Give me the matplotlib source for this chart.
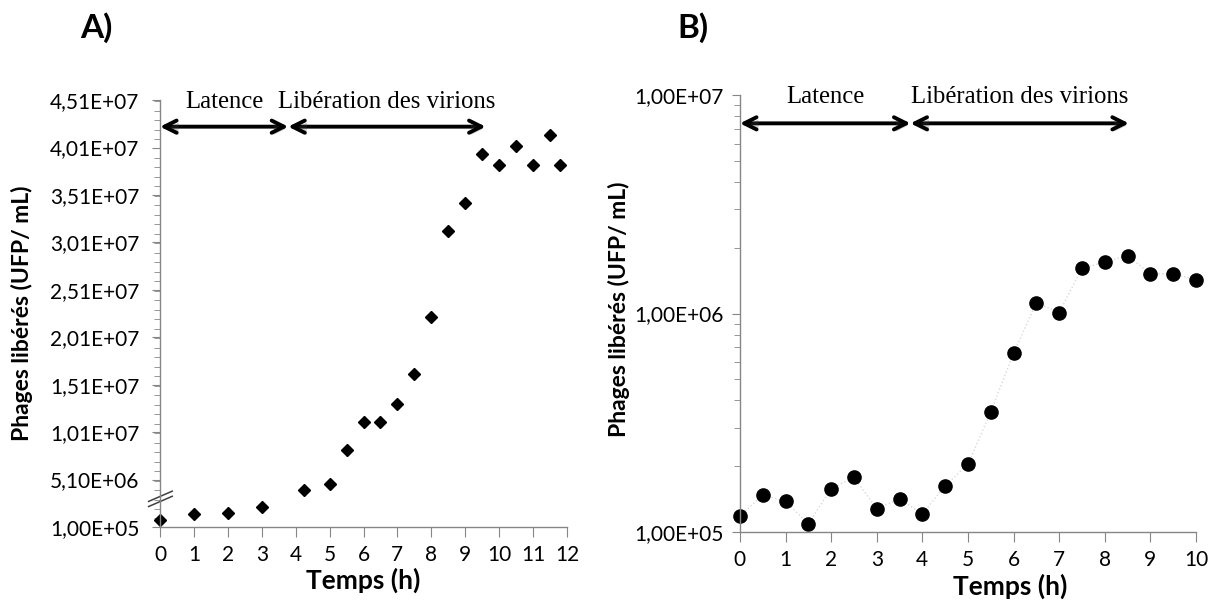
# Courbes de libération des phages (A: échelle linéaire, B: échelle log)
#=======================================================================
import numpy as np
import matplotlib.pyplot as plt
import matplotlib.patheffects as pe
from matplotlib.ticker import FuncFormatter, MultipleLocator, LogLocator, NullFormatter

plt.rcParams['font.family'] = ['Lato', 'DejaVu Sans']

# Données
#---------------------------
tA = [0, 1, 2, 3, 4.25, 5, 5.5, 6, 6.5, 7, 7.5, 8, 8.5, 9, 9.5, 10, 10.5, 11, 11.5, 11.8]
phagesA = [0.8e6, 1.5e6, 1.6e6, 2.2e6, 4.0e6, 4.6e6, 8.2e6, 11.2e6, 11.2e6, 13.1e6,
           16.2e6, 22.2e6, 31.3e6, 34.3e6, 39.4e6, 38.3e6, 40.3e6, 38.3e6, 41.4e6, 38.3e6]

tB = [0, 0.5, 1, 1.5, 2, 2.5, 3, 3.5, 4, 4.5, 5, 5.5, 6, 6.5, 7, 7.5, 8, 8.5, 9, 9.5, 10]
phagesB = [1.18e5, 1.48e5, 1.38e5, 1.09e5, 1.58e5, 1.78e5, 1.28e5, 1.42e5, 1.21e5, 1.63e5,
           2.04e5, 3.55e5, 6.58e5, 1.12e6, 1.01e6, 1.61e6, 1.72e6, 1.84e6, 1.52e6, 1.52e6, 1.43e6]

# Phases (début, fin) en heures
phasesA = [("Latence", 0, 3.78), ("Libération des virions", 3.78, 9.6)]
phasesB = [("Latence", 0, 3.74), ("Libération des virions", 3.74, 8.53)]

axisGray = "#868686"


# Format Excel "4,51E+07"
def excelFmt(v, pos=None):
    if v <= 0:
        return ""
    e = int(np.floor(np.log10(v) + 1e-9))
    m = v / 10**e
    return ("%.2f" % m).replace(".", ",") + "E+%02d" % e


def styleAxes(ax, ypad):
    for s in ["top", "right"]:
        ax.spines[s].set_visible(False)
    for s in ["left", "bottom"]:
        ax.spines[s].set_color(axisGray)
        ax.spines[s].set_linewidth(1.0)
    ax.tick_params(which="both", color=axisGray, direction="out", labelsize=15, labelcolor="black")
    ax.tick_params(axis="x", which="major", length=7, pad=6)
    ax.tick_params(axis="y", which="major", length=6, pad=ypad)
    ax.tick_params(axis="y", which="minor", length=4)
    ax.set_xlabel("Temps (h)", fontsize=19, fontweight="bold")
    ax.set_ylabel("Phages libérés (UFP/ mL)", fontsize=16.5, fontweight="bold")


def drawPhases(ax, phases, yArrow, yText):
    for name, x0, x1 in phases:
        ax.annotate("", xy=(x0, yArrow), xytext=(x1, yArrow),
                    arrowprops=dict(arrowstyle="<->", lw=2.8, color="black",
                                    mutation_scale=22, shrinkA=0, shrinkB=0,
                                    path_effects=[pe.SimplePatchShadow(offset=(1.5, -1.5), alpha=0.25),
                                                  pe.Normal()]),
                    annotation_clip=False)
        ax.text((x0 + x1) / 2, yText, name, ha="center", va="center", fontsize=17.8,
                family=["Liberation Serif", "DejaVu Serif"], clip_on=False)


fig = plt.figure(figsize=(12.17, 6.03), dpi=100)

# A) échelle linéaire
#--------------------
axA = fig.add_axes([0.1315, 0.126, 0.3344, 0.708])
axA.plot(tA, phagesA, linestyle="none", marker="D", markersize=6.6, color="black", clip_on=False)
axA.set_xlim(0, 12)
axA.set_ylim(1e5, 4.51e7)
axA.set_xticks(range(0, 13))
axA.set_yticks(np.arange(1e5, 4.52e7, 5e6))
axA.yaxis.set_minor_locator(MultipleLocator(1e6))
axA.yaxis.set_major_formatter(FuncFormatter(excelFmt))
styleAxes(axA, 9)
drawPhases(axA, phasesA, 4.23e7, 4.49e7)
axA.xaxis.set_label_coords(0.5, -0.095)
axA.yaxis.set_label_coords(-0.312, 0.5)

# rupture d'axe
for dy in (0.0, 0.012):
    axA.plot([-0.028, 0.03], [0.048 + dy, 0.072 + dy], transform=axA.transAxes,
             color="#404040", lw=1.1, clip_on=False)

fig.text(0.079, 0.955, "A)", fontsize=24, fontweight="bold", ha="center", va="center")

# B) échelle logarithmique
#-------------------------
axB = fig.add_axes([0.608, 0.1177, 0.3747, 0.7247])
axB.plot(tB, phagesB, linestyle=":", color="#d9d9d9", lw=1.0, clip_on=False)
axB.plot(tB, phagesB, linestyle="none", marker="o", markersize=9.5, color="black", clip_on=False)
axB.set_yscale("log")
axB.set_xlim(0, 10)
axB.set_ylim(1e5, 1e7)
axB.set_xticks(range(0, 11))
axB.yaxis.set_major_locator(LogLocator(base=10, numticks=5))
axB.yaxis.set_minor_locator(LogLocator(base=10, subs=np.arange(2, 10), numticks=20))
axB.yaxis.set_minor_formatter(NullFormatter())
axB.yaxis.set_major_formatter(FuncFormatter(excelFmt))
styleAxes(axB, 6)
drawPhases(axB, phasesB, 7.42e6, 9.8e6)
axB.xaxis.set_label_coords(0.593, -0.095)
axB.yaxis.set_label_coords(-0.241, 0.51)

fig.text(0.569, 0.955, "B)", fontsize=24, fontweight="bold", ha="center", va="center")

fig.savefig("out.png", dpi=100)
